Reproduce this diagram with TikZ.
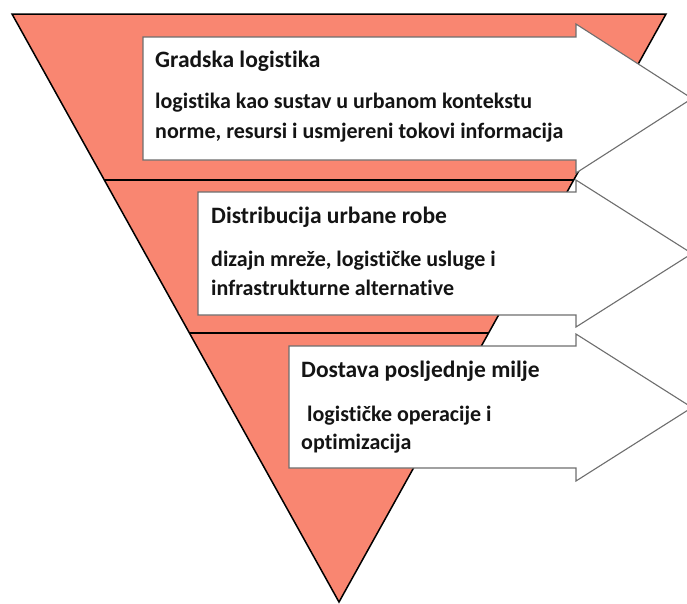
\documentclass[tikz,border=0pt]{standalone}
\usepackage{fontspec}
\setmainfont{Carlito}[Ligatures=NoCommon]
\definecolor{salmon}{RGB}{249,134,113}
\definecolor{arrowgray}{RGB}{110,110,110}
\tikzset{
  tri/.style={fill=salmon, draw=black, line width=1.5pt, line join=miter},
  band/.style={draw=black, line width=1.8pt},
  bigarrow/.style={fill=white, draw=arrowgray, line width=1.1pt, line join=miter},
  ttl/.style={anchor=base west, inner sep=0pt, font=\bfseries\fontsize{23.5}{26}\selectfont, text=black!92},
  txt/.style={anchor=base west, inner sep=0pt, font=\bfseries\fontsize{22}{26}\selectfont, text=black!92}
}
\begin{document}
\begin{tikzpicture}[x=1pt,y=-1pt]
\useasboundingbox (0,0) rectangle (687,603);
\clip (0,0) rectangle (687,603);
% triangle
\coordinate (TL) at (12,14);
\coordinate (TR) at (666,14);
\coordinate (AP) at (339,602);
\draw[tri] (TL) -- (TR) -- (AP) -- cycle;
% band lines
\coordinate (L1) at (104.3,180);
\coordinate (R1) at (573.7,180);
\coordinate (L2) at (189.4,333);
\coordinate (R2) at (488.6,333);
\draw[band] (L1) -- (R1);
\draw[band] (L2) -- (R2);
% arrow 1
\draw[bigarrow] (143,37) -- (576,37) -- (576,24) -- (692,98.5) -- (576,173) -- (576,160) -- (143,160) -- cycle;
% arrow 2
\draw[bigarrow] (198,192) -- (576,192) -- (576,180) -- (692,253.5) -- (576,327) -- (576,315) -- (198,315) -- cycle;
% arrow 3
\draw[bigarrow] (289,346) -- (576,346) -- (576,334) -- (692,407.5) -- (576,481) -- (576,468) -- (289,468) -- cycle;
% texts
\node[ttl] (t1) at (155,67) {Gradska logistika};
\node[txt] (a1) at (155,108) {logistika kao sustav u urbanom kontekstu};
\node[txt] (b1) at (155,138) {norme, resursi i usmjereni tokovi informacija};
\node[ttl] (t2) at (211,223) {Distribucija urbane robe};
\node[txt] (a2) at (211,266) {dizajn mreže, logističke usluge i};
\node[txt] (b2) at (211,295) {infrastrukturne alternative};
\node[ttl] (t3) at (301,377) {Dostava posljednje milje};
\node[txt] (a3) at (307,421) {logističke operacije i};
\node[txt] (b3) at (301,449) {optimizacija};
\end{tikzpicture}
\end{document}
